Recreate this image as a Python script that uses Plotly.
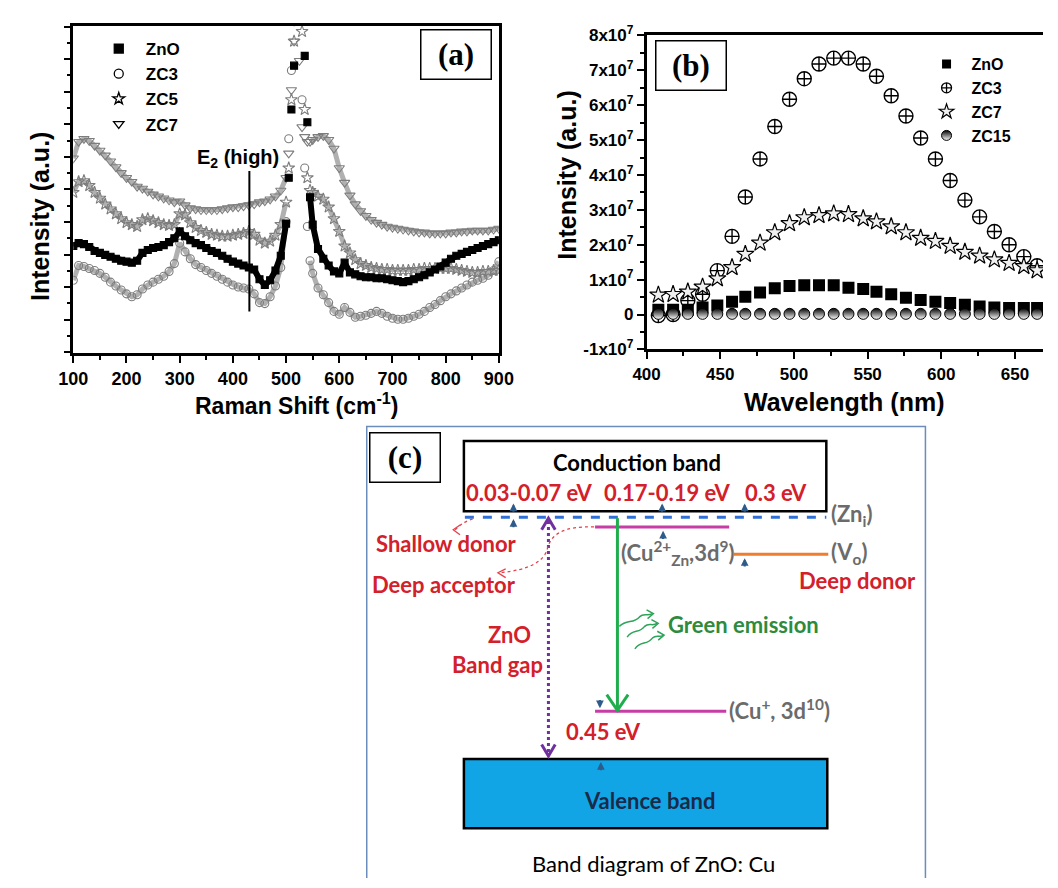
import plotly.graph_objects as go

W, H = 1058, 888
def fx(px): return px / W
def fy(py): return 1 - py / H

# ---------------- Panel (a): Raman spectra (a.u.) ----------------
raman_shift = [100,110,120,130,140,150,160,170,180,190,200,210,220,230,240,250,260,270,280,290,
               300,310,320,330,340,350,360,370,380,390,400,410,420,430,440,450,460,470,480,490,500,
               505,510,515,520,525,530,535,540,545,
               550,560,570,580,590,600,610,620,630,640,650,660,670,680,690,700,710,720,730,740,750,
               760,770,780,790,800,810,820,830,840,850,860,870,880,890,900]
raman_zno = [110,113,112,109,105,103,101,99,97,95,94,93,95,103,106,108,109,111,114,118,
             125,120,116,113,111,108,105,103,100,97,94,92,90,88,86,76,70,75,85,100,133,
             180,250,295,340,360,340,305,237,160,
             132,107,97,90,84,82,93,83,81,79,78,78,77,77,76,75,74,73,74,76,78,
             80,83,86,89,93,97,100,102,104,106,108,110,112,114,116]
raman_zc3 = [75,90,89,87,85,82,78,73,69,65,61,58,60,66,70,73,76,79,84,92,
             113,104,97,91,88,85,82,79,76,73,70,68,67,66,61,52,51,58,69,88,135,
             220,290,340,360,360,260,190,130,95,
             82,67,60,52,43,40,47,42,37,38,39,41,43,41,38,36,35,35,36,38,40,
             43,47,50,54,58,61,64,67,70,73,75,77,80,85,94]
raman_zc5 = [165,176,177,172,165,159,153,148,143,138,134,132,130,137,138,136,134,132,131,132,
             143,142,134,129,126,124,122,121,120,120,121,122,123,125,122,116,113,115,121,132,155,
             190,260,320,360,360,330,250,180,167,
             165,161,158,150,138,125,110,103,96,92,90,88,87,86,86,85,85,85,85,86,86,
             87,87,87,87,87,87,86,85,84,83,83,84,84,85,85]
raman_zc7 = [200,217,220,218,213,208,203,197,191,185,180,176,171,169,166,163,161,159,157,155,
             156,152,149,148,147,147,147,147,148,149,150,150,151,152,153,155,156,158,161,167,180,
             205,270,320,360,300,232,222,217,217,
             219,222,223,219,210,190,175,162,153,146,141,137,134,132,130,129,128,127,126,125,124,
             124,123,123,123,123,124,124,125,125,126,126,126,126,127,128]
E2_SHIFT = 431
E2_LINE_Y = [43, 187]
PEAK_START, PEAK_END = 41, 50   # index range of the steep Si peak (drawn as loose markers only)

# ---------------- Panel (b): PL spectra ----------------
wavelength = [408,418,428,438,448,458,467,477,487,497,507,517,527,537,547,556,566,576,586,596,
              606,616,626,636,646,656,665]
pl_zno = [0.14e7,0.14e7,0.14e7,0.20e7,0.26e7,0.37e7,0.51e7,0.63e7,0.75e7,0.82e7,0.84e7,0.84e7,0.84e7,
          0.77e7,0.73e7,0.65e7,0.58e7,0.48e7,0.42e7,0.37e7,0.33e7,0.28e7,0.23e7,0.20e7,0.19e7,0.19e7,0.19e7]
pl_zc3 = [-0.03e7,0.0e7,0.40e7,0.58e7,1.26e7,2.24e7,3.37e7,4.46e7,5.39e7,6.17e7,6.76e7,7.18e7,7.35e7,
          7.35e7,7.18e7,6.83e7,6.27e7,5.69e7,5.06e7,4.46e7,3.84e7,3.28e7,2.80e7,2.38e7,2.00e7,1.66e7,1.40e7]
pl_zc7 = [0.56e7,0.58e7,0.65e7,0.79e7,1.03e7,1.35e7,1.73e7,2.05e7,2.35e7,2.61e7,2.78e7,2.84e7,2.89e7,
          2.87e7,2.75e7,2.66e7,2.52e7,2.35e7,2.19e7,2.10e7,1.96e7,1.79e7,1.68e7,1.57e7,1.47e7,1.38e7,1.26e7]
pl_zc15 = [0.02e7,0.02e7,0.02e7,0.02e7,0.02e7,0.02e7,0.02e7,0.02e7,0.02e7,0.02e7,0.02e7,0.02e7,0.02e7,
           0.02e7,0.02e7,0.02e7,0.02e7,0.02e7,0.02e7,0.02e7,0.02e7,0.02e7,0.02e7,0.02e7,0.02e7,0.02e7,0.02e7]
b_tick_vals = [-1e7, 0, 1e7, 2e7, 3e7, 4e7, 5e7, 6e7, 7e7, 8e7]
b_tick_text = ["-1x10<sup>7</sup>", "0", "1x10<sup>7</sup>", "2x10<sup>7</sup>", "3x10<sup>7</sup>",
               "4x10<sup>7</sup>", "5x10<sup>7</sup>", "6x10<sup>7</sup>", "7x10<sup>7</sup>", "8x10<sup>7</sup>"]

ARIAL = "Liberation Sans"
TIMES = "Liberation Serif"
CAL = "Lato"
RED = "#d3202a"
GRAY = "#6b6b6b"

fig = go.Figure()

# ---- panel (a) traces: dense marker bands ----
a_series = [
    ("ZnO", raman_zno, "square", "black", 7, "black", 6),
    ("ZC3", raman_zc3, "circle-open", "#7d7d7d", 8, "#b0b0b0", 5),
    ("ZC5", raman_zc5, "star-open", "#7d7d7d", 9, "#b0b0b0", 5),
    ("ZC7", raman_zc7, "triangle-down-open", "#7d7d7d", 9, "#b0b0b0", 5),
]
for name, ys, sym, col, sz, lcol, lw in a_series[1:] + a_series[:1]:
    for lo, hi in [(0, PEAK_START), (PEAK_END - 1, len(raman_shift))]:
        fig.add_trace(go.Scatter(x=raman_shift[lo:hi], y=ys[lo:hi], mode="lines", showlegend=False,
                                 line=dict(color=lcol, width=lw), xaxis="x", yaxis="y"))
    fig.add_trace(go.Scatter(x=raman_shift, y=ys, mode="markers", name=name, showlegend=False,
                             marker=dict(symbol=sym, size=sz, color=col, line=dict(color=col, width=1.1)),
                             xaxis="x", yaxis="y"))
for name, ys, sym, col, sz, lcol, lw in a_series:
    fig.add_trace(go.Scatter(x=[None], y=[None], mode="markers", name=name, legend="legend",
                             marker=dict(symbol=sym, size=9, color="black", line=dict(color="black", width=1.3)),
                             xaxis="x", yaxis="y"))

# ---- panel (b) traces ----
b_series = [
    ("ZnO", pl_zno, dict(symbol="square", size=12, color="black"),
     dict(symbol="square", size=9, color="black")),
    ("ZC3", pl_zc3, dict(symbol="circle-cross-open", size=14, color="black", line=dict(width=1.4)),
     dict(symbol="circle-cross-open", size=10, color="black", line=dict(width=1.3))),
    ("ZC7", pl_zc7, dict(symbol="star", size=13, color="#f0f0f0", line=dict(color="black", width=1.2)),
     dict(symbol="star", size=11, color="#f0f0f0", line=dict(color="black", width=1.2))),
    ("ZC15", pl_zc15, dict(symbol="circle", size=11, color="black", gradient=dict(type="vertical", color="white"),
                          line=dict(color="black", width=1)),
     dict(symbol="circle", size=10, color="black", gradient=dict(type="vertical", color="white"),
          line=dict(color="black", width=1))),
]
for name, ys, mk, _ in b_series:
    fig.add_trace(go.Scatter(x=wavelength, y=ys, mode="markers", name=name, showlegend=False,
                             marker=mk, xaxis="x2", yaxis="y2"))
for name, ys, _, mk_leg in b_series:
    fig.add_trace(go.Scatter(x=[None], y=[None], mode="markers", name=name, legend="legend2",
                             marker=mk_leg, xaxis="x2", yaxis="y2"))

tick_a = dict(family=ARIAL, size=18, color="black", weight="bold")
tick_b = dict(family=ARIAL, size=17, color="black", weight="bold")
common = dict(showgrid=False, zeroline=False, showline=True, linecolor="black", linewidth=2.5,
              ticks="outside", tickcolor="black", ticklen=7, tickwidth=2)

fig.update_layout(
    width=W, height=H, margin=dict(l=0, r=0, t=0, b=0), hovermode=False,
    paper_bgcolor="white", plot_bgcolor="rgba(0,0,0,0)",
    xaxis=dict(domain=[fx(60), fx(498)], range=[100, 900], anchor="y", tickmode="linear", tick0=100, dtick=100,
               mirror=True, tickfont=tick_a,
               minor=dict(dtick=50, ticks="outside", ticklen=4, tickwidth=1.5, tickcolor="black"), **common),
    yaxis=dict(domain=[fy(350), fy(14)], range=[0, 336], anchor="x", showticklabels=False,
               tickmode="linear", tick0=1, dtick=33.4, mirror=True,
               minor=dict(tick0=1, dtick=16.7, ticks="outside", ticklen=4, tickwidth=1.5, tickcolor="black"), **common),
    xaxis2=dict(domain=[fx(650), 1.0], range=[400, 669], anchor="y2", tickmode="linear", tick0=400, dtick=50,
                mirror=True, tickfont=tick_b,
                minor=dict(dtick=25, ticks="outside", ticklen=4, tickwidth=1.5, tickcolor="black"), **common),
    yaxis2=dict(domain=[fy(346), fy(24)], range=[-1e7, 8e7], anchor="x2", tickmode="array",
                tickvals=b_tick_vals, ticktext=b_tick_text, mirror=False, tickfont=tick_b,
                minor=dict(dtick=0.5e7, ticks="outside", ticklen=4, tickwidth=1.5, tickcolor="black"), **common),
    xaxis3=dict(domain=[0, 1], range=[0, W], anchor="y3", visible=False, fixedrange=True),
    yaxis3=dict(domain=[0, 1], range=[H, 0], anchor="x3", visible=False, fixedrange=True),
    legend=dict(x=fx(79), y=fy(19.5), xanchor="left", yanchor="top", bgcolor="rgba(0,0,0,0)", itemwidth=44,
                font=dict(family=ARIAL, size=17, color="black", weight="bold"), tracegroupgap=0),
    legend2=dict(x=fx(933), y=fy(36), xanchor="left", yanchor="top", bgcolor="rgba(0,0,0,0)", itemwidth=40,
                 font=dict(family=ARIAL, size=16, color="black", weight="bold"), tracegroupgap=0),
)

ann = []
def pann(text, px, py, size, family=ARIAL, weight="bold", angle=0, **kw):
    d = dict(text=text, x=fx(px), y=fy(py), xref="paper", yref="paper", xanchor="center", yanchor="middle",
             textangle=angle, showarrow=False, font=dict(family=family, size=size, weight=weight, color="black"))
    d.update(kw)
    ann.append(d)

# axis titles
pann("Intensity (a.u.)", 26, 210, 25, angle=-90)
pann("Raman Shift (cm<sup>-1</sup>)", 290, 402, 23)
pann("Intensity (a.u.)", 568, 167, 25, angle=-90)
pann("Wavelength (nm)", 853, 400, 25)
# E2 label
pann("E<sub>2</sub> (high)", 230, 150, 20)
# panel tags
for tag, cx, cy in [("(a)", 454, 44), ("(b)", 696, 54.5), ("(c)", 401.5, 456.5)]:
    pann(tag, cx, cy, 31, family=TIMES, width=69, height=48, borderpad=0, bordercolor="black",
         borderwidth=1.5, bgcolor="white")

shapes = []
shapes.append(dict(type="line", xref="x", yref="y", x0=E2_SHIFT, x1=E2_SHIFT, y0=E2_LINE_Y[0], y1=E2_LINE_Y[1],
                   line=dict(color="black", width=2)))

# ---------------- Panel (c): band diagram (schematic, pixel coordinates) ----------------
def sh(**kw):
    d = dict(xref="x3", yref="y3")
    d.update(kw)
    shapes.append(d)

sh(type="rect", x0=362, y0=425, x1=937, y1=895, line=dict(color="#6a8dbb", width=1.5))
sh(type="rect", x0=462, y0=440, x1=835, y1=512, line=dict(color="black", width=2.5), fillcolor="white")
sh(type="rect", x0=462, y0=766, x1=836, y1=837, line=dict(color="black", width=2.5), fillcolor="#11a5e6")
sh(type="line", x0=463, y0=518, x1=835, y1=518, line=dict(color="#2f6fd6", width=3, dash="dash"))
sh(type="line", x0=597, y0=528, x1=735, y1=528, line=dict(color="#c53da5", width=3))
sh(type="line", x0=740, y0=556, x1=837, y1=556, line=dict(color="#ee7d2e", width=3))
sh(type="line", x0=597, y0=717, x1=732, y1=717, line=dict(color="#c53da5", width=3))
sh(type="line", x0=620, y0=519, x1=620, y1=714, line=dict(color="#1fad4e", width=3))
sh(type="path", path="M 609 700 L 620 716 L 631 700", line=dict(color="#1fad4e", width=3))
sh(type="line", x0=549, y0=522, x1=549, y1=760, line=dict(color="#7030a0", width=3, dash="dot"))
sh(type="path", path="M 542 531 L 549 519 L 556 531", line=dict(color="#7030a0", width=3))
sh(type="path", path="M 542 751 L 549 763 L 556 751", line=dict(color="#7030a0", width=3))
# red dashed curved pointers
sh(type="path", path="M 471 520 Q 462 522 453 531", line=dict(color="#e8404a", width=1.3, dash="dot"))
sh(type="path", path="M 458 526 L 451 531 L 458 536", line=dict(color="#e8404a", width=1.3))
sh(type="path", path="M 596 528 C 565 527, 552 535, 548 550 C 545 563, 530 572, 499 575",
   line=dict(color="#e8404a", width=1.3, dash="dot"))
sh(type="path", path="M 505 571 L 497 575 L 505 580", line=dict(color="#e8404a", width=1.3))
# wavy emission arrows
for p in ["M 622 630 C 630 622, 636 628, 643 620 C 647 616, 651 620, 656 617",
          "M 650 613 L 657 617 L 651 622",
          "M 630 641 C 636 632, 642 638, 648 630 C 652 626, 656 630, 661 627",
          "M 655 623 L 662 627 L 656 632",
          "M 638 653 C 644 644, 650 650, 656 642 C 660 638, 664 642, 667 639",
          "M 661 635 L 668 639 L 662 644"]:
    sh(type="path", path=p, line=dict(color="#2ea35a", width=1.5))

# small blue level arrows (head, tail)
small_arrows = [((513, 504), (513, 514)), ((513, 520), (513, 530)), ((666, 504), (666, 514)),
                ((751, 504), (751, 514)), ((667, 532), (667, 542)), ((751, 560), (751, 570)),
                ((602, 714), (602, 704)), ((603, 769), (603, 779))]
for (hx, hy), (tx, ty) in small_arrows:
    ann.append(dict(x=hx, y=hy, ax=tx, ay=ty, xref="x3", yref="y3", axref="x3", ayref="y3", text="",
                    showarrow=True, arrowhead=2, arrowsize=0.7, arrowwidth=2.2, arrowcolor="#2e5c8a"))

diagram_labels = [
    ("Conduction band", 640, 462, "center", "black", "bold"),
    ("0.03-0.07 eV", 530, 493, "center", RED, "bold"),
    ("0.17-0.19 eV", 672, 493, "center", RED, "bold"),
    ("0.3 eV", 783, 493, "center", RED, "bold"),
    ("(Zn<sub>i</sub>)", 838, 516, "left", GRAY, "bold"),
    ("Shallow donor", 444, 545, "center", RED, "bold"),
    ("Deep acceptor", 441, 587, "center", RED, "bold"),
    ("(Cu<sup>2+</sup><sub>Zn</sub>,3d<sup>9</sup>)", 622, 555, "left", GRAY, "bold"),
    ("(V<sub>o</sub>)", 838, 555, "left", GRAY, "bold"),
    ("Deep donor", 867, 583, "center", RED, "bold"),
    ("Green emission", 750, 628, "center", "#2e8b3e", "bold"),
    ("ZnO", 509, 638, "center", RED, "bold"),
    ("Band gap", 497, 669, "center", RED, "bold"),
    ("(Cu<sup>+</sup>, 3d<sup>10</sup>)", 733, 715, "left", GRAY, "bold"),
    ("0.45 eV", 606, 738, "center", RED, "bold"),
    ("Valence band", 653, 809, "center", "#1b2a48", "bold"),
    ("Band diagram of ZnO: Cu", 657, 873, "center", "black", "normal"),
]
for txt, x, y, anc, col, wt in diagram_labels:
    ann.append(dict(text=txt, x=x, y=y, xref="x3", yref="y3", xanchor=anc, yanchor="middle", showarrow=False,
                    font=dict(family=CAL, size=22, color=col, weight=wt)))

fig.update_layout(annotations=ann, shapes=shapes)
fig.write_html("out.html", config={"displayModeBar": False},
               post_script="document.body.style.margin='0';document.body.style.overflow='hidden';")
